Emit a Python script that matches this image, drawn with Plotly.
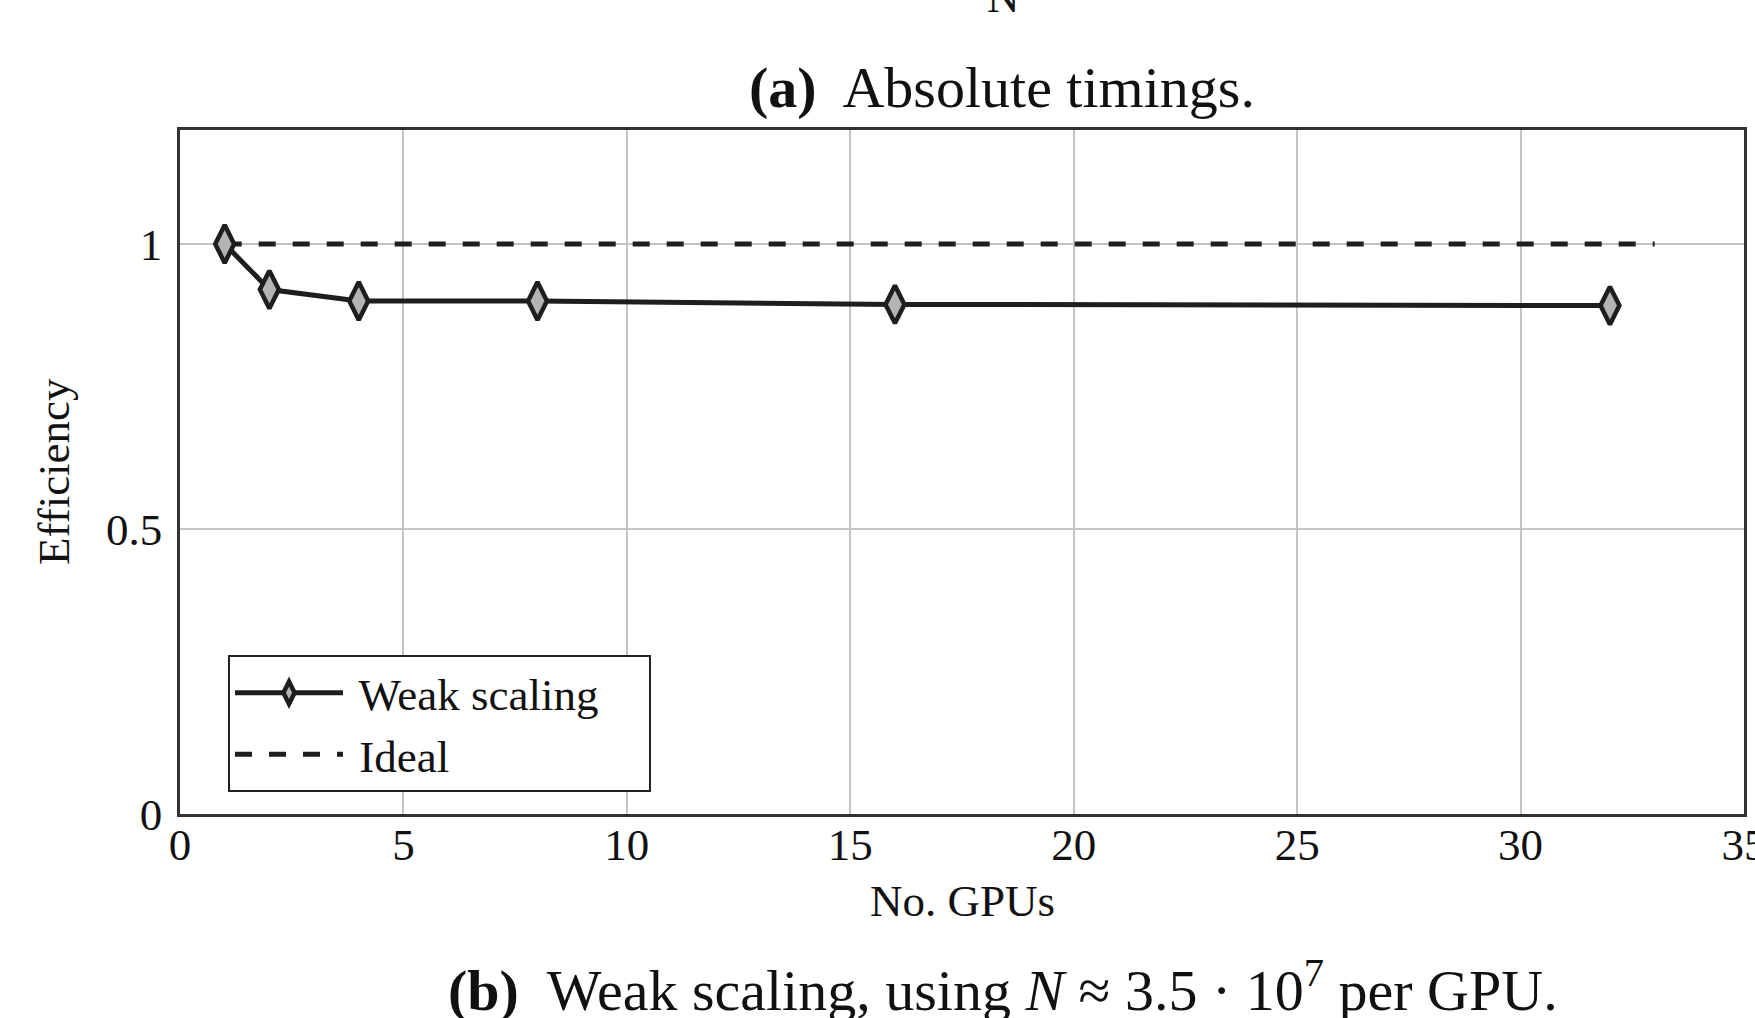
import plotly.graph_objects as go

# ---- data ----
gpus = [1, 2, 4, 8, 16, 32]
efficiency = [1.0, 0.92, 0.90, 0.90, 0.894, 0.892]
ideal_x = [1, 33]
ideal_y = [1.0, 1.0]
x_ticks = [0, 5, 10, 15, 20, 25, 30, 35]
y_ticks = [0, 0.5, 1]
y_tick_text = ["0", "0.5", "1"]

FONT = "Liberation Serif"
W, H = 1755, 1018
L, R, T, B = 180, 11, 130, 204
PW, PH = W - L - R, H - T - B


def px(xp):
    return (xp - L) / PW


def py(yp):
    return (H - B - yp) / PH


fig = go.Figure()

fig.add_trace(go.Scatter(
    x=ideal_x, y=ideal_y, mode="lines", name=" Ideal   ",
    line=dict(color="#1e1e1e", width=5, dash="17px,17px"),
    legendrank=2,
))
fig.add_trace(go.Scatter(
    x=gpus, y=efficiency, mode="lines+markers", name=" Weak scaling    ",
    line=dict(color="#1e1e1e", width=5),
    marker=dict(symbol="diamond-tall", size=27, color="#b4b4b4",
                line=dict(color="#1e1e1e", width=4.5)),
    legendrank=1,
))

axis_common = dict(
    showgrid=True, gridcolor="#c4c4c4", gridwidth=2,
    showline=True, linecolor="#333333", linewidth=2.5, mirror=True,
    ticks="", zeroline=False, automargin=False,
    tickfont=dict(family=FONT, size=45, color="#111111"),
)

fig.update_xaxes(range=[0, 35], tickvals=x_ticks, ticklabelstandoff=-11,
                 ticklabeloverflow="allow", **axis_common)
fig.update_yaxes(range=[0, 1.2], tickvals=y_ticks, ticktext=y_tick_text,
                 ticklabelstandoff=6, **axis_common)

annotations = [
    dict(text="Efficiency", x=px(54), y=py(472), textangle=-90,
         font=dict(size=45)),
    dict(text="No. GPUs", x=px(962), y=py(901), font=dict(size=45)),
    dict(text="<b>(a)</b>  Absolute timings.", x=px(1002), y=py(87),
         font=dict(size=58)),
    dict(text="<b>(b)</b>  Weak scaling, using <i>N</i> ≈ 3.5 · 10<sup>7</sup> per GPU.",
         x=px(1003), y=py(986), font=dict(size=58)),
    dict(text="N", x=px(1004), y=py(-3), font=dict(size=45)),
]
for a in annotations:
    a.update(xref="paper", yref="paper", showarrow=False,
             xanchor="center", yanchor="middle")
    a["font"].update(family=FONT, color="#111111")

fig.update_layout(
    width=W, height=H,
    margin=dict(l=L, r=R, t=T, b=B, pad=0, autoexpand=False),
    paper_bgcolor="white", plot_bgcolor="white",
    font=dict(family=FONT, size=45, color="#111111"),
    annotations=annotations,
    legend=dict(
        x=px(228), y=py(792), xanchor="left", yanchor="bottom",
        bordercolor="#222222", borderwidth=2, bgcolor="white",
        font=dict(family=FONT, size=45, color="#111111"),
        itemwidth=108, tracegroupgap=0,
    ),
)

fig.write_html("out.html")
